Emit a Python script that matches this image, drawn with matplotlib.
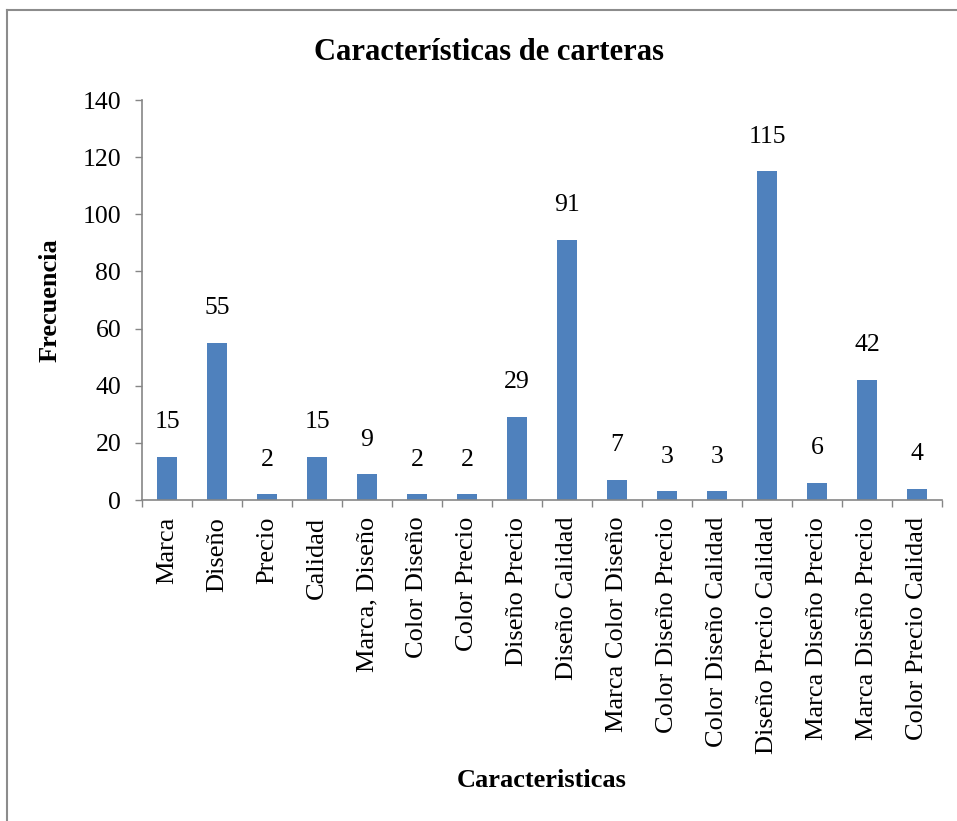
"""
Bar chart: Caracteristicas de carteras
"""
import matplotlib
matplotlib.use("Agg")
import matplotlib.pyplot as plt
from matplotlib.lines import Line2D
import numpy as np

categories = ["Marca", "Diseño", "Precio", "Calidad", "Marca, Diseño",
              "Color Diseño", "Color Precio", "Diseño Precio", "Diseño Calidad",
              "Marca Color Diseño", "Color Diseño Precio", "Color Diseño Calidad",
              "Diseño Precio Calidad", "Marca Diseño Precio", "Marca Diseño Precio",
              "Color Precio Calidad"]
frecuencia = [15, 55, 2, 15, 9, 2, 2, 29, 91, 7, 3, 3, 115, 6, 42, 4]
y_ticks = [0, 20, 40, 60, 80, 100, 120, 140]

bar_color = "#4F81BD"
axis_color = "#868686"

plt.rcParams["font.family"] = ["Liberation Serif", "DejaVu Serif"]

fig = plt.figure(figsize=(9.57, 8.21), dpi=100)
ax = fig.add_axes([142/957, 1-500/821, 800/957, 400/821])

x = np.arange(len(categories))
bars = ax.bar(x, frecuencia, width=0.4, color=bar_color, zorder=2)

# value labels above bars
for xi, v in zip(x, frecuencia):
    ax.annotate(str(v), (xi, v), xytext=(0, 25), textcoords="offset points",
                ha="center", va="center", fontsize=18.5)

ax.set_xlim(-0.5, len(categories) - 0.5)
ax.set_ylim(0, 140)
ax.set_yticks(y_ticks)

# tick marks between categories, labels at centers
ax.set_xticks(np.arange(-0.5, len(categories)), minor=False)
ax.set_xticklabels([])
ax.set_xticks(x, minor=True)
ax.set_xticklabels(categories, minor=True, rotation=90, fontsize=19)
ax.tick_params(axis="x", which="minor", length=0, pad=12)
ax.tick_params(axis="x", which="major", length=5, width=1, color=axis_color, direction="out")
ax.tick_params(axis="y", length=5, width=1, color=axis_color, labelsize=18.5, pad=10)

for side in ["top", "right"]:
    ax.spines[side].set_visible(False)
for side in ["left", "bottom"]:
    ax.spines[side].set_color(axis_color)
    ax.spines[side].set_linewidth(1.2)

ax.set_ylabel("Frecuencia", fontsize=19, fontweight="bold")
ax.yaxis.set_label_coords(-0.1, 0.5)
ax.set_xlabel("Caracteristicas", fontsize=19, fontweight="bold")
ax.xaxis.set_label_coords(0.5, -0.7)
ax.xaxis.label.set_va("center")

fig.text(489/957, 1-53/821, "Características de carteras", ha="center", va="center",
         fontsize=22, fontweight="bold")

# chart border (runs off the right and bottom edges)
fig.add_artist(Line2D([7/957, 7/957], [-0.1, 1-10/821], transform=fig.transFigure,
                      color="#8c8c8c", lw=1.5))
fig.add_artist(Line2D([7/957, 1.1], [1-10/821, 1-10/821], transform=fig.transFigure,
                      color="#8c8c8c", lw=1.5))

plt.savefig("out.png", dpi=100)
plt.close()
